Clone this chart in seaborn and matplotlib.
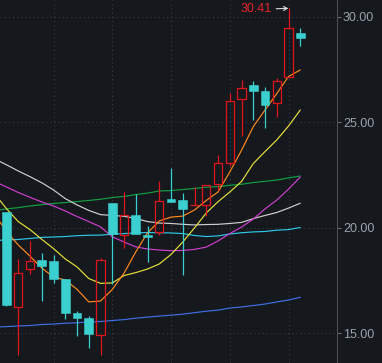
import numpy as np
import pandas as pd
import matplotlib
matplotlib.use("Agg")
import matplotlib.pyplot as plt
import seaborn as sns

# ---------------- data ----------------
opens  = [20.75, 16.26, 18.04, 18.48, 18.43, 17.59, 15.96, 15.74, 14.91, 21.18,
          19.65, 20.61, 19.66, 19.82, 21.36, 21.32, 21.07, 21.07, 22.07, 23.09,
          26.10, 26.78, 26.51, 25.91, 27.17, 29.26]
closes = [16.36, 17.85, 18.43, 18.21, 17.59, 15.98, 15.74, 14.97, 18.48, 19.70,
          20.60, 19.70, 19.58, 21.26, 21.22, 20.89, 21.07, 22.03, 23.06, 26.00,
          26.62, 26.51, 25.84, 26.95, 29.46, 28.99]
highs  = [20.75, 18.53, 19.38, 18.81, 18.72, 17.59, 16.06, 15.84, 18.57, 21.18,
          21.70, 21.61, 20.09, 22.22, 22.84, 21.67, 21.95, 22.03, 23.46, 26.38,
          27.01, 26.97, 26.68, 27.09, 30.41, 29.48]
lows   = [16.32, 13.97, 17.83, 16.55, 17.40, 15.69, 14.89, 14.32, 13.97, 17.33,
          19.03, 19.70, 18.36, 19.66, 21.22, 17.78, 21.07, 20.56, 21.80, 22.95,
          24.37, 25.12, 24.75, 25.27, 27.17, 28.64]

# moving averages, first value belongs to the (off-screen) bar before bar 0
ma_orange  = [20.64, 19.83, 19.19, 18.66, 18.10, 17.67, 17.53, 17.09, 16.49, 16.53,
              17.08, 17.85, 18.86, 19.76, 20.33, 20.51, 20.56, 20.85, 21.30, 21.70,
              22.65, 23.68, 24.80, 25.59, 26.37, 27.18, 27.49]
ma_yellow  = [21.61, 20.91, 20.30, 19.92, 19.46, 19.02, 18.53, 18.15, 17.60, 17.37,
              17.39, 17.74, 17.88, 18.05, 18.29, 18.74, 19.33, 20.00, 20.71, 21.24,
              21.70, 22.20, 23.05, 23.62, 24.17, 24.83, 25.59]
ma_white   = [23.27, 22.99, 22.70, 22.43, 22.14, 21.80, 21.39, 21.09, 20.83, 20.63,
              20.59, 20.55, 20.45, 20.30, 20.23, 20.21, 20.17, 20.14, 20.16, 20.17,
              20.21, 20.26, 20.44, 20.59, 20.73, 20.94, 21.17]
ma_magenta = [22.20, 21.94, 21.68, 21.45, 21.23, 21.04, 20.80, 20.54, 20.30, 20.05,
              19.58, 19.33, 19.10, 19.00, 18.95, 18.92, 18.93, 18.98, 19.09, 19.38,
              19.73, 20.04, 20.42, 20.90, 21.32, 21.84, 22.41]
ma_green   = [20.82, 20.90, 20.96, 21.04, 21.10, 21.16, 21.20, 21.25, 21.30, 21.36,
              21.44, 21.49, 21.58, 21.65, 21.75, 21.77, 21.82, 21.87, 21.93, 21.96,
              22.02, 22.07, 22.15, 22.21, 22.27, 22.37, 22.46]
ma_cyan    = [19.40, 19.43, 19.45, 19.50, 19.55, 19.57, 19.59, 19.63, 19.65, 19.66,
              19.70, 19.73, 19.76, 19.78, 19.77, 19.76, 19.73, 19.64, 19.59, 19.62,
              19.71, 19.77, 19.81, 19.83, 19.89, 19.92, 20.02]
ma_blue    = [15.29, 15.32, 15.35, 15.37, 15.42, 15.44, 15.48, 15.50, 15.54, 15.56,
              15.61, 15.65, 15.72, 15.77, 15.82, 15.86, 15.91, 15.98, 16.05, 16.10,
              16.20, 16.25, 16.32, 16.39, 16.49, 16.58, 16.71]

y_ticks = [15, 20, 25, 30]
y_tick_labels = ["15.00", "20.00", "25.00", "30.00"]
grid_bars = [4, 9, 14, 19, 24]
peak_label = "30.41"
peak_bar = 24
peak_value = 30.41

# ---------------- style ----------------
BG = "#15181d"
RED = "#e0161c"
CYAN = "#3ccfcf"
GRID = "#3a4048"
TXT = "#9ba3ac"

sns.set_style("dark")
plt.rcParams["font.family"] = ["Liberation Sans", "DejaVu Sans"]

fig = plt.figure(figsize=(3.82, 3.63), dpi=100, facecolor=BG)
ax = fig.add_axes([0, 0, 336.7 / 382, 1])
ax.set_facecolor(BG)

n = len(opens)
x = np.arange(n)
o = np.array(opens); c = np.array(closes)
h = np.array(highs); l = np.array(lows)
up = c >= o

# grid
for v in y_ticks:
    ax.axhline(v, color=GRID, lw=0.75, ls=(0, (1, 3)), zorder=0.5)
for b in grid_bars:
    ax.axvline(b, color=GRID, lw=0.75, ls=(0, (1, 3)), zorder=0.5)

# moving averages (drawn beneath the candles)
xm = np.arange(-1, n)
ma_df = pd.concat([
    pd.DataFrame({"x": xm, "v": ma_blue, "ma": "blue"}),
    pd.DataFrame({"x": xm, "v": ma_cyan, "ma": "cyan"}),
    pd.DataFrame({"x": xm, "v": ma_green, "ma": "green"}),
    pd.DataFrame({"x": xm, "v": ma_white, "ma": "white"}),
    pd.DataFrame({"x": xm, "v": ma_magenta, "ma": "magenta"}),
    pd.DataFrame({"x": xm, "v": ma_yellow, "ma": "yellow"}),
    pd.DataFrame({"x": xm, "v": ma_orange, "ma": "orange"}),
])
palette = {"blue": "#3f6fe6", "cyan": "#2ec6e6", "green": "#12a043",
           "white": "#cfcfcf", "magenta": "#d03ed0", "yellow": "#e6e03a",
           "orange": "#ff8a1c"}
sns.lineplot(data=ma_df, x="x", y="v", hue="ma", palette=palette,
             estimator=None, sort=False, legend=False, lw=0.85, ax=ax, zorder=2)

# wicks: rising candles get wick only outside the hollow body
ax.vlines(x[up], c[up], h[up], color=RED, lw=0.9, zorder=4)
ax.vlines(x[up], l[up], o[up], color=RED, lw=0.9, zorder=4)
ax.vlines(x[~up], l[~up], h[~up], color=CYAN, lw=0.9, zorder=4)

# bodies
bw = 0.70
ax.bar(x[up], (c - o)[up], bottom=o[up], width=bw, facecolor="none",
       edgecolor=RED, linewidth=0.9, zorder=5)
ax.bar(x[~up], (o - c)[~up], bottom=c[~up], width=bw + 0.04, facecolor=CYAN,
       edgecolor=CYAN, linewidth=0.4, zorder=5)

# peak annotation
ax.annotate(peak_label, xy=(peak_bar, peak_value), xytext=(-17, -1),
            textcoords="offset pixels", ha="right", va="center",
            color="#e8262c", fontsize=9,
            arrowprops=dict(arrowstyle="->", color="#d8d8d8", lw=0.8,
                            shrinkA=1, shrinkB=0, mutation_scale=7),
            zorder=6, annotation_clip=False)

# axes
ax.set_xlim(-0.553, 28.10)
ax.set_ylim(13.594, 30.806)
ax.set_xlabel(""); ax.set_ylabel("")
ax.set_xticks([])
ax.yaxis.tick_right()
ax.set_yticks(y_ticks)
ax.set_yticklabels(y_tick_labels)
ax.tick_params(axis="y", colors="#6a7078", labelcolor=TXT, labelsize=9,
               length=3, width=0.8, pad=1.5, direction="out", right=True, left=False)
for side in ["left", "top", "bottom"]:
    ax.spines[side].set_visible(False)
ax.spines["right"].set_visible(True)
ax.spines["right"].set_color("#4a4f56")
ax.spines["right"].set_linewidth(0.8)
ax.grid(False)

fig.savefig("out.png", dpi=100, facecolor=BG)
